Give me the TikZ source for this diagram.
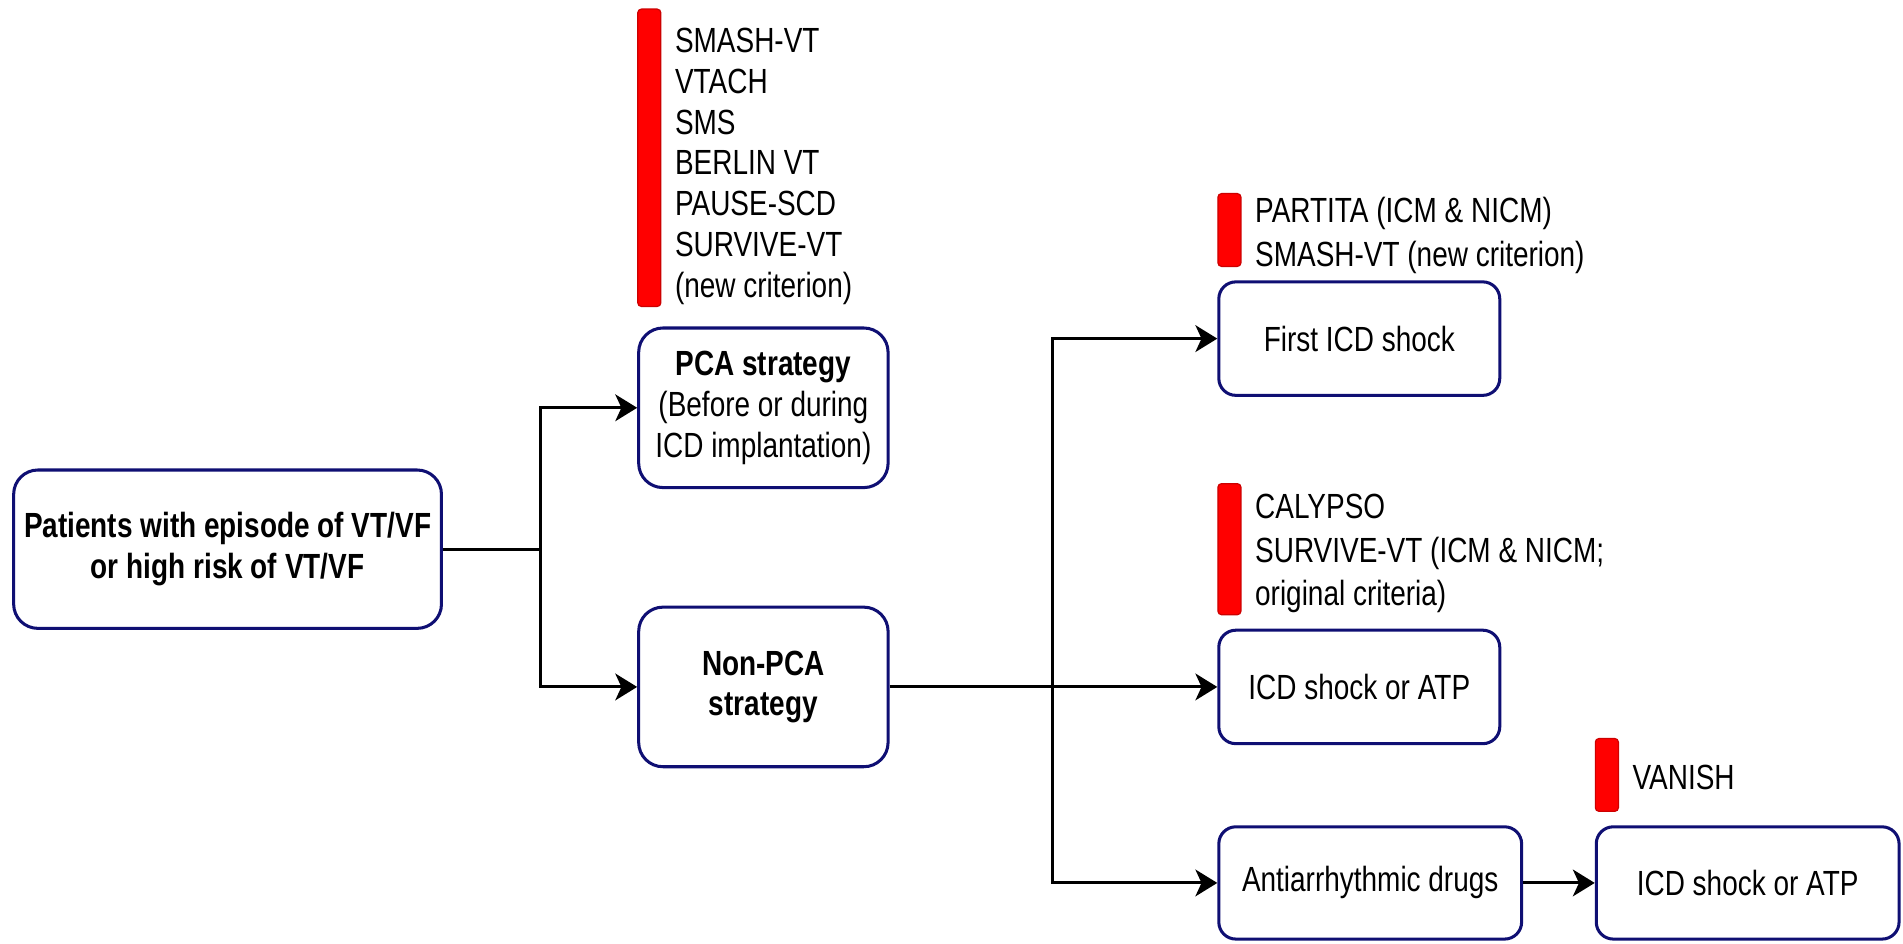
\documentclass[tikz,border=0pt]{standalone}
\usepackage{fontspec}
\setmainfont{Liberation Sans}[FakeStretch=0.8]
\usetikzlibrary{arrows.meta}
\definecolor{boxblue}{RGB}{15,15,115}
\definecolor{barred}{RGB}{255,0,0}
\definecolor{baredge}{RGB}{205,0,0}
\begin{document}
\begin{tikzpicture}[x=1pt,y=-1pt,
  boxbase/.style={draw=boxblue, line width=2.5pt, fill=white, inner sep=0pt, align=center,
    font=\fontsize{28.8}{33.6}\selectfont},
  bigbox/.style={boxbase, rounded corners=20pt},
  smallbox/.style={boxbase, rounded corners=14pt},
  redbar/.style={draw=baredge, fill=barred, line width=1pt, rounded corners=3pt, inner sep=0pt, minimum width=19pt},
  lbl/.style={anchor=west, align=left, inner sep=0pt},
  conn/.style={line width=2.5pt, draw=black},
  arr/.style={conn, -{Stealth[length=18pt,width=22pt,inset=5pt]}}
]
\useasboundingbox (0,0) rectangle (1568,777);

% main boxes
\node[bigbox, font=\fontsize{28.8}{33.6}\selectfont\bfseries, minimum width=352.5pt, minimum height=130.5pt] (patients) at (187.5,452.5)
  {Patients with episode of VT/VF\\or high risk of VT/VF};
\node[bigbox, minimum width=205.5pt, minimum height=131.5pt] (pca) at (629,336)
  {\textbf{PCA strategy}\\(Before or during\\ICD implantation)};
\node[bigbox, font=\fontsize{28.8}{33.6}\selectfont\bfseries, minimum width=205.5pt, minimum height=131.5pt] (nonpca) at (629,566)
  {Non-PCA\\strategy};
\node[smallbox, minimum width=231.5pt, minimum height=93.5pt] (first) at (1120,279) {First ICD shock};
\node[smallbox, minimum width=231.5pt, minimum height=93.5pt] (icdone) at (1120,566) {ICD shock or ATP};
\node[smallbox, minimum width=249.5pt, minimum height=92.5pt] (aad) at (1129,727.5) {Antiarrhythmic drugs};
\node[smallbox, minimum width=249.5pt, minimum height=92.5pt] (icdtwo) at (1440,727.5) {ICD shock or ATP};

% red bars
\node[redbar, minimum height=245pt] (barone) at (535,130) {};
\node[redbar, minimum height=60pt] (bartwo) at (1013,189.5) {};
\node[redbar, minimum height=108pt] (barthree) at (1013,452.5) {};
\node[redbar, minimum height=60pt] (barfour) at (1324,638.5) {};

% trial labels
\node[lbl, font=\fontsize{28.8}{33.6}\selectfont] (tone) at (556,137)
  {SMASH-VT\\VTACH\\SMS\\BERLIN VT\\PAUSE-SCD\\SURVIVE-VT\\(new criterion)};
\node[lbl, font=\fontsize{28.8}{35.6}\selectfont] (ttwo) at (1034,194)
  {PARTITA (ICM \& NICM)\\SMASH-VT (new criterion)};
\node[lbl, font=\fontsize{28.8}{35.7}\selectfont] (tthree) at (1034,456)
  {CALYPSO\\SURVIVE-VT (ICM \& NICM;\\original criteria)};
\node[lbl, font=\fontsize{28.8}{34}\selectfont] (tfour) at (1345,641) {VANISH};

% connectors
\coordinate (jone) at (445,452.5);
\coordinate (jtwo) at (867.5,566);
\draw[conn] (patients.east) -- (jone);
\draw[arr] (jone) |- (pca.west);
\draw[arr] (jone) |- (nonpca.west);
\draw[arr] (nonpca.east) -- (icdone.west);
\draw[arr] (jtwo) |- (first.west);
\draw[arr] (jtwo) |- (aad.west);
\draw[arr] (aad.east) -- (icdtwo.west);
\end{tikzpicture}
\end{document}
